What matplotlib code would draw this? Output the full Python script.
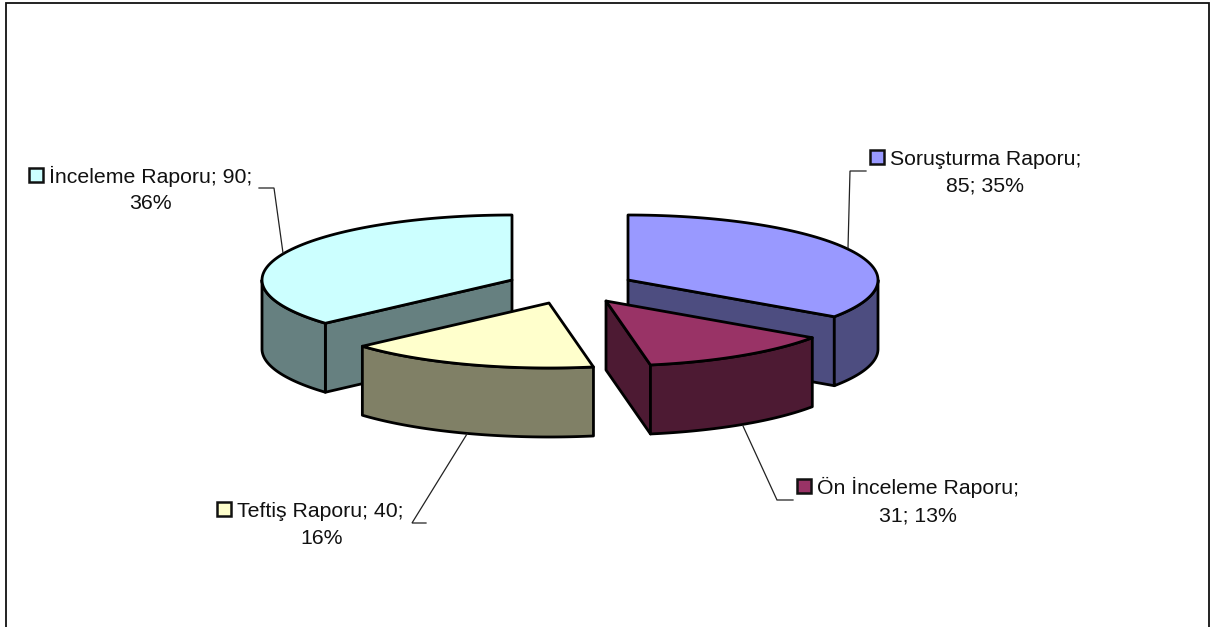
import matplotlib
matplotlib.use('Agg')
import matplotlib.pyplot as plt
import numpy as np
from matplotlib.patches import Polygon, Rectangle

plt.rcParams['font.family'] = ['Liberation Sans', 'DejaVu Sans']

# chart values, clockwise from 12 o'clock
values = [85, 31, 40, 90]
first_lines  = ['Soruşturma Raporu;', 'Ön İnceleme Raporu;', 'Teftiş Raporu; 40;', 'İnceleme Raporu; 90;']
second_lines = ['85; 35%', '31; 13%', '16%', '36%']

TOPS  = ['#9999FF', '#993366', '#FFFFCC', '#CCFFFF']
SIDES = ['#4D4D80', '#4D1A33', '#808066', '#668080']

# pixel layout of the exploded 3d pie
APEX  = [(628, 280), (606, 301), (549, 303), (512, 280)]
RX, RY, DEPTH = 250, 65, 69

# key x, first baseline, second line centre x, second baseline
LABEL_POS = [
    (870, 165, 985, 192),
    (797, 494, 918, 521),
    (217, 517, 322, 544),
    (29, 183, 150, 209),
]
LEADERS = [
    [(866, 171), (850, 171), (848, 248)],
    [(793, 500), (777, 500), (743, 426)],
    [(426, 523), (412, 523), (467, 434)],
    [(259, 188), (274, 188), (283, 253)],
]


def rim(center, a, b):
    t = np.linspace(a, b, 80)
    return np.column_stack([center[0] + RX * np.sin(t), center[1] - RY * np.cos(t)])


fig = plt.figure(figsize=(12.10, 6.27), dpi=100)
ax = fig.add_axes([0, 0, 1, 1])
ax.set_xlim(0, 1210)
ax.set_ylim(627, 0)
ax.axis('off')

ax.add_patch(Rectangle((5.5, 2.5), 1203, 640, fc='white', ec='#111111', lw=1.3))

edges = np.cumsum([0] + values) / sum(values) * 2 * np.pi
starts, ends = edges[:-1], edges[1:]

for i in [3, 0, 2, 1]:
    c = np.array(APEX[i], dtype=float)
    a, b = starts[i], ends[i]
    down = np.array([0, DEPTH])
    style = dict(ec='black', lw=2.0, joinstyle='round')

    # cut faces turned towards the viewer
    for ang, normal in [(a, a - np.pi / 2), (b, b + np.pi / 2)]:
        if np.cos(normal) < -0.01:
            p = rim(c, ang, ang)[0]
            ax.add_patch(Polygon([c, p, p + down, c + down], fc=SIDES[i], **style))

    # outer wall, front half only
    lo, hi = max(a, np.pi / 2), min(b, 3 * np.pi / 2)
    if hi > lo:
        arc = rim(c, lo, hi)
        ax.add_patch(Polygon(np.vstack([arc, arc[::-1] + down]), fc=SIDES[i], **style))

    ax.add_patch(Polygon(np.vstack([c, rim(c, a, b)]), fc=TOPS[i], **style))

for pts in LEADERS:
    xs, ys = zip(*pts)
    ax.plot(xs, ys, color='#222222', lw=0.9, solid_joinstyle='miter')

for i, (kx, y1, cx, y2) in enumerate(LABEL_POS):
    ax.add_patch(Rectangle((kx, y1 - 15), 14, 14, fc=TOPS[i], ec='#111111', lw=1.8))
    ax.text(kx + 20, y1, first_lines[i], fontsize=15.3, color='#111111', ha='left', va='baseline')
    ax.text(cx, y2, second_lines[i], fontsize=15.3, color='#111111', ha='center', va='baseline')

fig.savefig('out.png', dpi=100)
